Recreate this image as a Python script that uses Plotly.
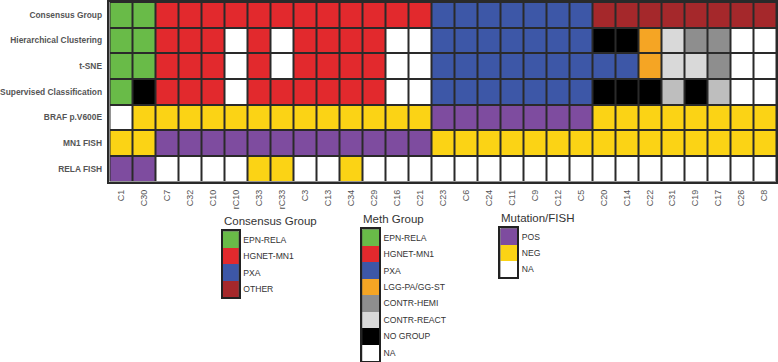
import plotly.graph_objects as go

W, H = 778, 362

samples = ["C1", "C30", "C7", "C32", "C10", "rC10", "C33", "rC33", "C3", "C13", "C34", "C29",
           "C16", "C21", "C23", "C6", "C24", "C11", "C9", "C12", "C5", "C20", "C14", "C22",
           "C31", "C19", "C17", "C26", "C8"]
rows = ["Consensus Group", "Hierarchical Clustering", "t-SNE", "Supervised Classification",
        "BRAF p.V600E", "MN1 FISH", "RELA FISH"]

E, Hg, P, O, L, CH, CR, CS, NG, NA, POS, NEG = (
    "EPN-RELA", "HGNET-MN1", "PXA", "OTHER", "LGG-PA/GG-ST", "CONTR-HEMI", "CONTR-REACT",
    "CONTR", "NO GROUP", "NA", "POS", "NEG")

consensus = [E, E] + [Hg] * 12 + [P] * 7 + [O] * 8
hierarchical = [E, E, Hg, Hg, Hg, NA, Hg, NA, Hg, Hg, Hg, Hg, NA, NA] + [P] * 7 + \
               [NG, NG, L, CR, CH, CH, NA, NA]
tsne = [E, E, Hg, Hg, Hg, NA, Hg, NA, Hg, Hg, Hg, Hg, NA, NA] + [P] * 7 + \
       [P, P, L, CR, CR, CH, NA, NA]
supervised = [E, NG, Hg, Hg, Hg, NA, Hg, Hg, Hg, Hg, Hg, Hg, NA, NA] + [P] * 7 + \
             [NG, NG, NG, CS, NG, CS, NA, NA]
braf = [NA] + [NEG] * 13 + [POS] * 7 + [NEG] * 8
mn1 = [NEG, NEG] + [POS] * 12 + [NEG] * 15
rela = [POS, POS, NA, NA, NA, NA, NEG, NEG, NA, NA, NEG, NA, NA, NA] + [NA] * 15

consensus_legend = [E, Hg, P, O]
meth_legend = [E, Hg, P, L, CH, CR, NG, NA]
mut_legend = [POS, NEG, NA]

colors = {
    E: "#69bb48", Hg: "#e2292d", P: "#3d57a7", O: "#a5282b", L: "#f5a524",
    CH: "#8e8e8e", CR: "#d9d9d9", CS: "#bebebe", NG: "#000000", NA: "#ffffff",
    POS: "#7e4c9f", NEG: "#fbd315",
}
cats = list(colors.keys())
n = len(cats)
scale = []
for i, c in enumerate(cats):
    scale.append([i / n, colors[c]])
    scale.append([(i + 1) / n, colors[c]])

def code(lst):
    return [cats.index(v) for v in lst]

matrix = [consensus, hierarchical, tsne, supervised, braf, mn1, rela]
z = [code(r) for r in matrix]

fig = go.Figure()
fig.add_trace(go.Heatmap(
    z=z, x=samples, y=rows, colorscale=scale, zmin=-0.5, zmax=n - 0.5,
    showscale=False, xgap=2, ygap=2, hoverinfo="skip", xaxis="x", yaxis="y"))

def px_x(v):
    return v / W

def px_y(v):
    return 1 - v / H

fig.update_layout(
    width=W, height=H, margin=dict(l=0, r=0, t=0, b=0),
    paper_bgcolor="white", plot_bgcolor="#2a2a2a",
    font=dict(family="Liberation Sans, Arial", color="#444"),
    xaxis=dict(domain=[px_x(107), px_x(777)], tickangle=-90, showgrid=False, zeroline=False,
               tickfont=dict(size=9, color="#555"), ticks="outside", ticklen=3,
               tickcolor="rgba(0,0,0,0)", showline=True, mirror=True, linecolor="#2a2a2a",
               linewidth=1.5, anchor="y"),
    yaxis=dict(domain=[px_y(181), px_y(1)], autorange="reversed", showgrid=False,
               zeroline=False, tickfont=dict(size=8.4, color="#555"),
               ticks="outside", ticklen=4, tickcolor="rgba(0,0,0,0)", showline=True,
               mirror=True, linecolor="#2a2a2a", linewidth=1.5, anchor="x",
               ticktext=["<b>%s</b>" % r for r in rows], tickvals=rows),
)

legends = [
    ("Consensus Group", consensus_legend, (221, 237), (231, 297)),
    ("Meth Group", meth_legend, (361, 378), (229, 361)),
    ("Mutation/FISH", mut_legend, (500, 517), (228, 277)),
]
for k, (title, items, (x0, x1), (y0, y1)) in enumerate(legends, start=2):
    xa, ya = "x%d" % k, "y%d" % k
    fig.add_trace(go.Heatmap(
        z=[[cats.index(v)] for v in items], x=[0], y=items, colorscale=scale,
        zmin=-0.5, zmax=n - 0.5, showscale=False, hoverinfo="skip",
        xaxis=xa, yaxis=ya))
    fig.layout["xaxis%d" % k] = dict(domain=[px_x(x0), px_x(x1)], anchor=ya, showticklabels=False,
                                     showgrid=False, zeroline=False, ticks="", showline=True,
                                     mirror=True, linecolor="#222", linewidth=1.5)
    fig.layout["yaxis%d" % k] = dict(domain=[px_y(y1), px_y(y0)], anchor=xa, side="right",
                                     autorange="reversed", showgrid=False, zeroline=False,
                                     ticks="outside", ticklen=1, tickcolor="rgba(0,0,0,0)",
                                     tickfont=dict(size=8.6, color="#333"), showline=True,
                                     mirror=True, linecolor="#222", linewidth=1.5)
    fig.add_annotation(text=title, x=px_x(x0 - 1), y=px_y(y0 - 2), xref="paper", yref="paper",
                       xanchor="left", yanchor="bottom", showarrow=False,
                       font=dict(size=11.5, color="#333"))

fig.write_html("out.html", config={"displayModeBar": False},
               post_script="document.body.style.margin='0';document.body.style.overflow='hidden';")
